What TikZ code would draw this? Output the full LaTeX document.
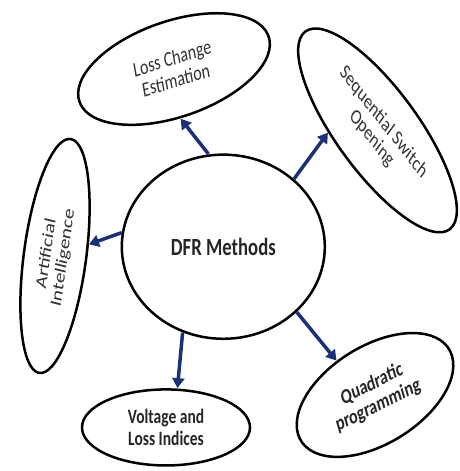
\documentclass[tikz,border=0pt]{standalone}
\usepackage{fontspec}
\setmainfont{Carlito}
\usetikzlibrary{shapes.geometric,arrows.meta}
\definecolor{navy}{RGB}{28,48,118}
\definecolor{txt}{RGB}{50,50,50}
\begin{document}
\begin{tikzpicture}[x=1pt, y=1pt, yscale=1.32, transform shape,
  bub/.style={ellipse, draw, line width=2.5pt, inner sep=0pt, align=center,
    text=txt, font=\fontsize{16}{17}\selectfont},
  boldbub/.style={bub, text=black!85, font=\bfseries\fontsize{16}{17}\selectfont},
  conn/.style={draw=navy, line width=3.5pt, -{Triangle[length=10pt,width=12pt]}}]
\useasboundingbox (0,0) rectangle (459,356.8);
\node[bub, minimum width=203pt, minimum height=139.5pt, text=black!85,
  font=\bfseries\fontsize{18.7}{20}\selectfont] (c) at (223.3,169.9) {DFR Methods};
\node[bub, minimum width=196pt, minimum height=74pt, rotate=13] (le) at (174,304.5)
  {Loss Change\\Estimation};
\node[bub, minimum width=209pt, minimum height=73pt, rotate=-44] (ss) at (377.5,258)
  {Sequential Switch\\Opening};
\node[bub, minimum width=180pt, minimum height=62pt, rotate=79.5] (ai) at (55,162.9)
  {Artificial\\Intelligence};
\node[boldbub, minimum width=168pt, minimum height=57.6pt,
  font=\bfseries\fontsize{15.5}{16.5}\selectfont] (vl) at (166,33)
  {Voltage and\\Loss Indices};
\node[boldbub, minimum width=165pt, minimum height=78pt, rotate=21] (qp) at (375,57.6)
  {Quadratic\\programming};
\draw[conn] (c.102) -- (le.267);
\draw[conn] (c.36) -- (ss.226);
\draw[conn] (c.174) -- (ai.295);
\draw[conn] (c.238) -- (vl.69);
\draw[conn] (c.326) -- (qp.125);
\end{tikzpicture}
\end{document}
